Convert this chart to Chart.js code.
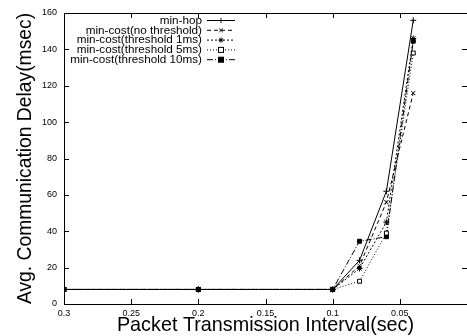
<!DOCTYPE html>
<html>
<head>
<meta charset="utf-8">
<script src="https://cdn.jsdelivr.net/npm/chart.js@4"></script>
<style>
  html, body { margin: 0; padding: 0; background: #fff; overflow: hidden; }
  #wrap { width: 467px; height: 336px; overflow: hidden; }
</style>
</head>
<body>
<div id="wrap"><canvas id="delayChart" width="472" height="336"></canvas></div>
<script>
// packet interval (sec) and avg delay (msec) per routing scheme
const intervals = [0.3, 0.2, 0.1, 0.08, 0.06, 0.04];
const minHop = [8, 8, 8, 24, 62, 156];
const minCostNoThreshold = [8, 8, 8, 21, 56, 116];
const minCostThreshold1 = [8, 8, 8, 19.5, 45, 146];
const minCostThreshold5 = [8, 8, 8, 12.5, 39, 138];
const minCostThreshold10 = [8, 8, 8, 34.5, 37, 144.5];
const xTicks = [0.3, 0.25, 0.2, 0.15, 0.1, 0.05];
const yTicks = [0, 20, 40, 60, 80, 100, 120, 140, 160];

const FONT = 'Liberation Sans, Arial, Helvetica, sans-serif';

function series(label, values, dash, pointStyle, fill) {
  return {
    label: label,
    data: intervals.map((x, i) => ({ x: x, y: values[i] })),
    borderColor: '#000',
    borderWidth: 1,
    borderDash: dash,
    pointStyle: pointStyle,
    pointRadius: pointStyle === 'rect' ? 2.8 : 3,
    pointBorderWidth: 1,
    pointBorderColor: '#000',
    pointBackgroundColor: fill,
    fill: false,
    tension: 0
  };
}

// gnuplot style legend: text right aligned, line sample on the right
const keyPlugin = {
  id: 'key',
  afterDatasetsDraw(chart) {
    const ctx = chart.ctx;
    const textRight = 202;
    const x0 = 207, x1 = 235;
    let y = 20.5;
    ctx.save();
    ctx.font = '11.7px ' + FONT;
    ctx.textAlign = 'right';
    ctx.textBaseline = 'middle';
    chart.data.datasets.forEach(ds => {
      ctx.fillStyle = '#000';
      ctx.fillText(ds.label, textRight, y);
      ctx.strokeStyle = '#000';
      ctx.lineWidth = 1;
      ctx.setLineDash(ds.borderDash || []);
      ctx.beginPath();
      ctx.moveTo(x0, y);
      ctx.lineTo(x1, y);
      ctx.stroke();
      ctx.setLineDash([]);
      const cx = (x0 + x1) / 2;
      if (ds.pointStyle === 'rect') {
        ctx.fillStyle = ds.pointBackgroundColor;
        ctx.fillRect(cx - 2.5, y - 2.5, 5, 5);
        ctx.strokeRect(cx - 2.5, y - 2.5, 5, 5);
      } else {
        Chart.helpers.drawPoint(ctx, { pointStyle: ds.pointStyle, radius: 2.5, borderWidth: 1 }, cx, y);
      }
      y += 9.8;
    });
    ctx.restore();
  }
};

// border box and inward ticks on all four sides
const framePlugin = {
  id: 'frame',
  beforeDatasetsDraw(chart) {
    const { ctx, chartArea: a, scales } = chart;
    ctx.save();
    ctx.strokeStyle = '#000';
    ctx.lineWidth = 1;
    ctx.strokeRect(Math.round(a.left) + 0.5, Math.round(a.top) + 0.5,
      Math.round(a.right - a.left), Math.round(a.bottom - a.top));
    ctx.beginPath();
    yTicks.forEach(v => {
      const py = Math.round(scales.y.getPixelForValue(v)) + 0.5;
      ctx.moveTo(a.left, py); ctx.lineTo(a.left + 5, py);
      ctx.moveTo(a.right, py); ctx.lineTo(a.right - 5, py);
    });
    xTicks.forEach(v => {
      const px = Math.round(scales.x.getPixelForValue(v)) + 0.5;
      ctx.moveTo(px, a.bottom); ctx.lineTo(px, a.bottom - 5);
      ctx.moveTo(px, a.top); ctx.lineTo(px, a.top + 5);
    });
    ctx.stroke();
    ctx.restore();
  }
};

const ctx = document.getElementById('delayChart').getContext('2d');
new Chart(ctx, {
  type: 'line',
  data: {
    datasets: [
      series('min-hop', minHop, [], 'cross', '#000'),
      series('min-cost(no threshold)', minCostNoThreshold, [4, 3], 'crossRot', '#000'),
      series('min-cost(threshold 1ms)', minCostThreshold1, [2, 2], 'star', '#000'),
      series('min-cost(threshold 5ms)', minCostThreshold5, [1, 2], 'rect', '#fff'),
      series('min-cost(threshold 10ms)', minCostThreshold10, [6, 2, 1, 2], 'rect', '#000')
    ]
  },
  options: {
    responsive: false,
    animation: false,
    layout: { padding: { top: 13, right: 3, left: 0, bottom: 0 } },
    plugins: {
      legend: { display: false },
      tooltip: { enabled: false }
    },
    scales: {
      x: {
        type: 'linear',
        reverse: true,
        min: 0,
        max: 0.3,
        afterFit(scale) { scale.height = 32; },
        afterBuildTicks(scale) { scale.ticks = xTicks.concat([0]).map(v => ({ value: v })); },
        grid: { display: false, drawTicks: false },
        border: { display: false },
        ticks: {
          padding: 4,
          color: '#000',
          font: { family: FONT, size: 9 },
          maxRotation: 0,
          autoSkip: false,
          callback: v => (v === 0 ? '' : String(Number(v.toFixed(2))))
        },
        title: {
          display: true,
          text: 'Packet Transmission Interval(sec)',
          color: '#000',
          font: { family: FONT, size: 19.8 },
          padding: { top: 0, bottom: -1 }
        }
      },
      y: {
        type: 'linear',
        min: 0,
        max: 160,
        afterFit(scale) { scale.width = 64; },
        afterBuildTicks(scale) { scale.ticks = yTicks.map(v => ({ value: v })); },
        grid: { display: false, drawTicks: false },
        border: { display: false },
        ticks: {
          padding: 7,
          color: '#000',
          autoSkip: false,
          font: { family: FONT, size: 9 },
          callback: v => String(v)
        },
        title: {
          display: true,
          text: 'Avg. Communication Delay(msec)',
          color: '#000',
          font: { family: FONT, size: 19.3 },
          padding: { top: 14.5, bottom: 0 }
        }
      }
    }
  },
  plugins: [framePlugin, keyPlugin]
});
</script>
</body>
</html>
